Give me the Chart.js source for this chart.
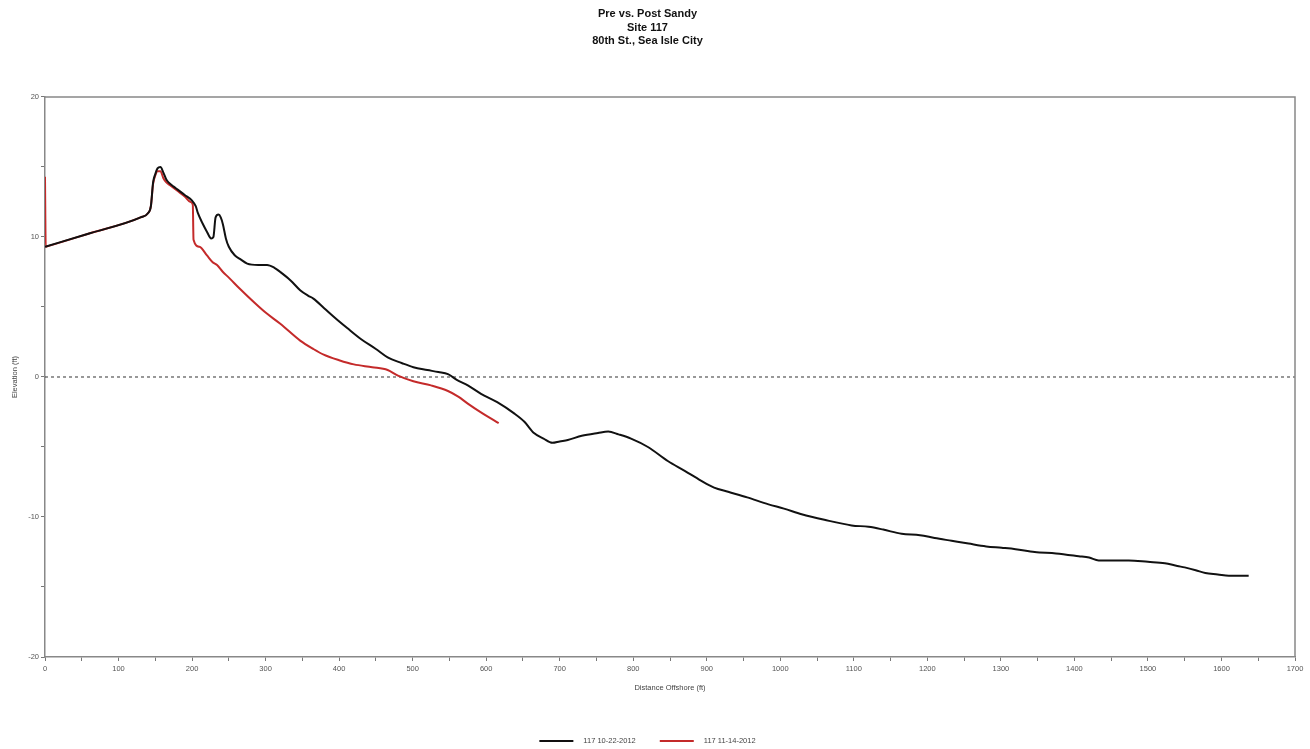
<!DOCTYPE html>
<html>
<head>
<meta charset="utf-8">
<script src="https://cdn.jsdelivr.net/npm/chart.js@4/dist/chart.umd.min.js"></script>
<style>
  html, body { margin: 0; padding: 0; background: #fff; }
  #wrap { width: 1310px; height: 749px; }
</style>
</head>
<body>
<div id="wrap"><canvas id="c" width="1310" height="749"></canvas></div>
<script>
const titleLines = ["Pre vs. Post Sandy", "Site 117", "80th St., Sea Isle City"];
const seriesNames = ["117 10-22-2012", "117 11-14-2012"];
const xTitle = "Distance Offshore (ft)";
const yTitle = "Elevation (ft)";

const preX = [0,60,130,140,144,147,150,153,157,161,165,168,175,180,190,200,205,208,214,220,226,229,232,236,239,242,246,250,258,266,275,290,302,312,320,334,347,358,365,380,395,411,430,450,466,485,501,520,535,548,560,575,593,615,638,652,665,678,690,700,711,730,752,766,780,797,820,847,870,892,910,929,955,984,1005,1029,1060,1097,1120,1140,1165,1190,1210,1233,1256,1280,1301,1320,1346,1375,1406,1420,1433,1474,1500,1523,1540,1550,1565,1578,1595,1610,1637];
const preY = [9.3,10.25,11.4,11.7,12.2,13.9,14.5,14.9,15.0,14.6,14.1,13.9,13.6,13.4,13.0,12.6,12.2,11.7,11.0,10.4,9.9,10.0,11.4,11.6,11.4,10.9,9.9,9.3,8.7,8.4,8.1,8.0,8.0,7.8,7.5,6.9,6.2,5.8,5.6,4.9,4.2,3.5,2.7,2.0,1.4,1.0,0.7,0.5,0.35,0.2,-0.2,-0.6,-1.2,-1.8,-2.6,-3.2,-4.0,-4.4,-4.7,-4.6,-4.5,-4.2,-4.0,-3.9,-4.1,-4.4,-5.0,-6.0,-6.7,-7.4,-7.9,-8.2,-8.6,-9.1,-9.4,-9.8,-10.2,-10.6,-10.7,-10.9,-11.2,-11.3,-11.5,-11.7,-11.9,-12.1,-12.2,-12.3,-12.5,-12.6,-12.8,-12.9,-13.1,-13.1,-13.2,-13.3,-13.5,-13.6,-13.8,-14.0,-14.1,-14.2,-14.2];

const postX = [0,1,3,60,130,140,144,147,150,153,157,161,165,170,180,190,198,201,202,210,220,228,234,242,250,265,285,300,320,347,365,379,400,420,445,466,480,501,525,548,562,575,595,617];
const postY = [14.3,9.3,9.33,10.25,11.4,11.7,12.2,13.8,14.4,14.7,14.7,14.2,13.9,13.7,13.3,12.9,12.5,12.3,9.8,9.3,8.7,8.2,8.0,7.5,7.1,6.3,5.3,4.6,3.8,2.6,2.0,1.6,1.2,0.9,0.7,0.5,0.1,-0.3,-0.6,-1.0,-1.4,-1.9,-2.6,-3.3];

const xMin = 0, xMax = 1700, xStep = 50, xLabelEvery = 100;
const yMin = -20, yMax = 20, yStep = 5, yLabelEvery = 10;
const refLineY = 0;

function pts(xs, ys) { return xs.map((x, i) => ({ x: x, y: ys[i] })); }

const FONT = "'Liberation Sans', Arial, sans-serif";
const LEGEND_PAD = 24;
const LEGEND_TOP = 713.25;

const framePlugin = {
  id: 'frame',
  beforeDatasetsDraw(chart) {
    const { ctx, chartArea: a, scales } = chart;
    const y0 = scales.y.getPixelForValue(refLineY);
    ctx.save();
    ctx.strokeStyle = '#333';
    ctx.lineWidth = 1;
    ctx.setLineDash([3, 3]);
    ctx.beginPath();
    ctx.moveTo(a.left, y0);
    ctx.lineTo(a.right, y0);
    ctx.stroke();
    ctx.setLineDash([]);
    ctx.strokeStyle = '#888';
    ctx.lineWidth = 1.5;
    ctx.beginPath();
    ctx.moveTo(a.left, a.top);
    ctx.lineTo(a.right, a.top);
    ctx.lineTo(a.right, a.bottom);
    ctx.stroke();
    ctx.restore();
  }
};

const legendFitPlugin = {
  id: 'legendFit',
  beforeInit(chart) {
    const orig = chart.legend.fit;
    chart.legend.fit = function () {
      orig.call(this);
      this.height = 749 - LEGEND_TOP;
    };
  }
};

new Chart(document.getElementById('c'), {
  type: 'line',
  data: {
    datasets: [
      { label: seriesNames[0], data: pts(preX, preY), borderColor: '#111', backgroundColor: '#111', borderWidth: 2, pointRadius: 0, cubicInterpolationMode: 'monotone', fill: false },
      { label: seriesNames[1], data: pts(postX, postY), borderColor: '#c42a2a', backgroundColor: '#c42a2a', borderWidth: 2, pointRadius: 0, cubicInterpolationMode: 'monotone', fill: false }
    ]
  },
  options: {
    responsive: false,
    animation: false,
    layout: { padding: { top: 0, right: 15, bottom: 0, left: 0 } },
    plugins: {
      title: {
        display: true,
        text: titleLines,
        color: '#111',
        font: { family: FONT, size: 11, weight: 'bold', lineHeight: 1.227 },
        padding: { top: 7.25, bottom: 49.25 }
      },
      legend: {
        display: true,
        position: 'bottom',
        labels: {
          usePointStyle: true,
          pointStyle: 'line',
          pointStyleWidth: 34,
          color: '#444',
          padding: LEGEND_PAD,
          font: { family: FONT, size: 7.5 },
          generateLabels(chart) {
            const items = Chart.defaults.plugins.legend.labels.generateLabels(chart);
            items.forEach(it => { it.text = '   ' + it.text; });
            return items;
          }
        }
      },
      tooltip: { enabled: false }
    },
    scales: {
      x: {
        type: 'linear',
        min: xMin, max: xMax,
        afterFit(scale) { scale.height = LEGEND_TOP - 657; },
        grid: { drawOnChartArea: false, drawTicks: true, tickLength: 4, color: '#777' },
        border: { color: '#888', width: 1.5 },
        ticks: {
          stepSize: xStep,
          autoSkip: false,
          maxRotation: 0,
          padding: 3,
          color: '#555',
          font: { family: FONT, size: 7.5 },
          callback: v => (v % xLabelEvery === 0 ? String(v) : '')
        },
        title: { display: true, text: xTitle, color: '#444', font: { family: FONT, size: 7.5 }, padding: { top: 4, bottom: 20.75 } }
      },
      y: {
        type: 'linear',
        min: yMin, max: yMax,
        afterFit(scale) { scale.width = 45; },
        grid: { drawOnChartArea: false, drawTicks: true, tickLength: 4, color: '#777' },
        border: { color: '#888', width: 1.5 },
        ticks: {
          stepSize: yStep,
          autoSkip: false,
          padding: 2,
          color: '#555',
          font: { family: FONT, size: 7.5 },
          callback: v => (v % yLabelEvery === 0 ? String(v) : '')
        },
        title: { display: true, text: yTitle, color: '#444', font: { family: FONT, size: 7.5 }, padding: { top: 10.5, bottom: 0 } }
      }
    }
  },
  plugins: [framePlugin, legendFitPlugin]
});
</script>
</body>
</html>
